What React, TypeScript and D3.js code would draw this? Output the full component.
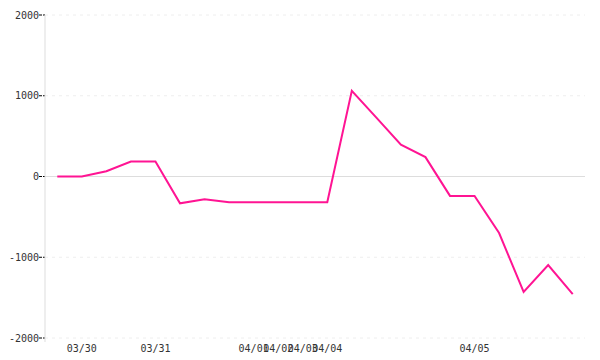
import React from "react";
import * as d3 from "d3";

const xLabels: string[] = [
  "", "03/30", "", "", "03/31", "", "", "", "04/01", "04/02", "04/03", "04/04",
  "", "", "", "", "", "04/05", "", "", "", "",
];
const values: number[] = [
  0, 0, 66, 186, 186, -332, -282, -320, -320, -320, -320, -320,
  1060, 730, 394, 240, -240, -240, -700, -1430, -1097, -1457,
];
const yTicks: number[] = [2000, 1000, 0, -1000, -2000];

const W = 600, H = 360;
const left = 45, right = 585, top = 15, bottom = 338;

export default function App() {
  const idx = values.map((_, i) => i);
  const x = d3.scaleBand<number>().domain(idx).range([left, right]);
  const cx = (i: number) => (x(i) as number) + x.bandwidth() / 2;
  const y = d3.scaleLinear().domain([-2000, 2000]).range([bottom, top]);
  const line = d3.line<number>().x((_, i) => cx(i)).y((d) => y(d));
  const font = "'DejaVu Sans Mono', monospace";
  return (
    <svg width={W} height={H} style={{ position: "absolute", left: 0, top: 0 }}>
      <rect width={W} height={H} fill="#fff" />
      {yTicks.map((t) => (
        <g key={t}>
          <line
            x1={left} x2={right} y1={y(t)} y2={y(t)}
            stroke={t === 0 ? "#ddd" : "#eee"}
            strokeDasharray={t === 0 ? undefined : "3,4"}
          />
          <line x1={left - 6} x2={left} y1={y(t)} y2={y(t)} stroke="#000" strokeDasharray="3,1" />
          <text x={left - 6} y={y(t)} dy="0.35em" textAnchor="end" fontSize={10} fontFamily={font} fill="#333">
            {t}
          </text>
        </g>
      ))}
      <line x1={left} x2={left} y1={top} y2={bottom + 4} stroke="#ddd" />
      {xLabels.map((l, i) =>
        l ? (
          <text key={i} x={cx(i)} y={352} textAnchor="middle" fontSize={10} fontFamily={font} fill="#333">
            {l}
          </text>
        ) : null
      )}
      <path d={line(values) || ""} fill="none" stroke="#ff1493" strokeWidth={2} />
    </svg>
  );
}
